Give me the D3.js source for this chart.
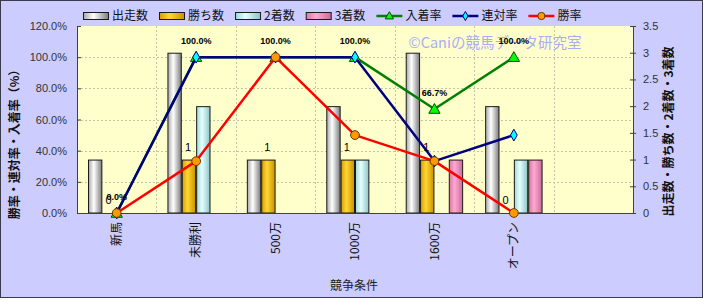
<!DOCTYPE html>
<html><head><meta charset="utf-8">
<script src="https://cdn.jsdelivr.net/npm/d3@7"></script>
<style>
body{margin:0;background:#fff;}
svg{display:block;}
text{font-family:"Liberation Sans",Arial,sans-serif;}
.jp{font-family:"Noto Sans CJK JP","Noto Sans",sans-serif;}
</style></head><body>
<svg id="chart" width="703" height="301"></svg>
<script>
// chart data
const CATEGORIES  = ['新馬', '未勝利', '500万', '1000万', '1600万', 'オープン', ''];
const BAR_SERIES  = ['出走数', '勝ち数', '2着数', '3着数'];
const STARTS      = [1, 3, 1, 2, 3, 2];
const WINS        = [0, 1, 1, 1, 1, 0];
const SECONDS     = [0, 2, 0, 1, 0, 1];
const THIRDS      = [0, 0, 0, 0, 1, 1];
const LINE_SERIES = ['入着率', '連対率', '勝率'];
const SHOW_RATE   = [0, 1, 1, 1, 0.667, 1];
const PLACE_RATE  = [0, 1, 1, 1, 0.333, 0.5];
const WIN_RATE    = [0, 0.333, 1, 0.5, 0.333, 0];
const LEFT_TICKS  = [0, 0.2, 0.4, 0.6, 0.8, 1.0, 1.2];
const RIGHT_TICKS = [0, 0.5, 1, 1.5, 2, 2.5, 3, 3.5];

const W = 703, H = 301;
const plot = {l: 77, r: 633, t: 26, b: 213};

const svg = d3.select('#chart');

// backgrounds
svg.append('rect').attr('x', 0.5).attr('y', 0.5).attr('width', W - 1).attr('height', H - 4)
  .attr('fill', '#ccccff').attr('stroke', '#3a3a4a').attr('stroke-width', 1);
svg.append('rect').attr('x', plot.l).attr('y', plot.t)
  .attr('width', plot.r - plot.l).attr('height', plot.b - plot.t).attr('fill', '#ffffcc');

// gradients for cylinder-looking bars
const barColors = {
  '出走数': ['#a8a8a8', '#ffffff', '#7c7c7c'],
  '勝ち数': ['#d9a000', '#ffd633', '#c89200'],
  '2着数': ['#9fd8d8', '#e6ffff', '#8cc4c4'],
  '3着数': ['#d8789f', '#ffa8d4', '#c86c96'],
};
const defs = svg.append('defs');
BAR_SERIES.forEach((s, i) => {
  const g = defs.append('linearGradient').attr('id', 'grad' + i)
    .attr('x1', '0%').attr('x2', '100%').attr('y1', '0%').attr('y2', '0%');
  g.append('stop').attr('offset', '0%').attr('stop-color', barColors[s][0]);
  g.append('stop').attr('offset', '40%').attr('stop-color', barColors[s][1]);
  g.append('stop').attr('offset', '100%').attr('stop-color', barColors[s][2]);
});

// scales
const x = d3.scaleBand().domain(CATEGORIES).range([plot.l, plot.r]).padding(0);
const bw = x.bandwidth();
const xs = d3.scaleBand().domain(BAR_SERIES).range([11, bw - 11]).padding(0);
const yL = d3.scaleLinear().domain([0, 1.2]).range([plot.b, plot.t]);
const yR = d3.scaleLinear().domain([0, 3.5]).range([plot.b, plot.t]);
const cx = c => x(c) + bw / 2;

// grid
const grid = svg.append('g').attr('stroke', '#c4c4ac').attr('stroke-width', 1)
  .attr('stroke-dasharray', '2,2');
LEFT_TICKS.filter(t => t > 0 && t < 1.2).forEach(t => {
  grid.append('line').attr('x1', plot.l).attr('x2', plot.r)
    .attr('y1', Math.round(yL(t)) + 0.5).attr('y2', Math.round(yL(t)) + 0.5);
});
CATEGORIES.slice(1).forEach(c => {
  grid.append('line').attr('x1', Math.round(x(c)) + 0.5).attr('x2', Math.round(x(c)) + 0.5)
    .attr('y1', plot.t).attr('y2', plot.b);
});

// watermark
svg.append('text').attr('class', 'jp').attr('x', 495).attr('y', 48)
  .attr('text-anchor', 'middle').attr('font-size', 14.5).attr('fill', '#a9aef2')
  .text('©Caniの競馬データ研究室');

// bars
const barData = [STARTS, WINS, SECONDS, THIRDS];
const bars = svg.append('g');
BAR_SERIES.forEach((s, si) => {
  const rows = barData[si].map((v, i) => ({cat: CATEGORIES[i], v})).filter(d => d.v > 0);
  bars.selectAll(null).data(rows).join('rect')
    .attr('x', d => x(d.cat) + xs(s) + 0.5)
    .attr('y', d => yR(d.v) + 0.5)
    .attr('width', xs.bandwidth() - 1)
    .attr('height', d => yR(0) - yR(d.v) - 0.5)
    .attr('fill', `url(#grad${si})`)
    .attr('stroke', '#1a1a1a').attr('stroke-width', 1);
});

// axes
const axL = svg.append('g').attr('transform', `translate(${plot.l},0)`)
  .call(d3.axisLeft(yL).tickValues(LEFT_TICKS).tickFormat(d3.format('.1%')).tickSizeInner(-4).tickSizeOuter(0).tickPadding(10));
const axR = svg.append('g').attr('transform', `translate(${plot.r},0)`)
  .call(d3.axisRight(yR).tickValues(RIGHT_TICKS).tickFormat(d => d).tickSizeInner(3).tickSizeOuter(0).tickPadding(7));
[axL, axR].forEach(a => {
  a.select('.domain').attr('stroke', '#404040');
  a.selectAll('.tick line').attr('stroke', '#404040');
  a.selectAll('.tick text').attr('font-size', 11).attr('fill', '#333')
    .attr('font-family', '"Liberation Sans",Arial,sans-serif');
});
axR.selectAll('.tick line').attr('x1', -3);
svg.append('line').attr('x1', plot.l).attr('x2', plot.r).attr('y1', plot.b + 0.5).attr('y2', plot.b + 0.5)
  .attr('stroke', '#404040');

// category labels, vertical
const axB = svg.append('g').attr('transform', `translate(0,${plot.b})`)
  .call(d3.axisBottom(x).tickSize(0).tickPadding(0));
axB.select('.domain').remove();
axB.selectAll('.tick text')
  .attr('class', 'jp').attr('font-size', 12).attr('fill', '#111')
  .attr('font-family', '"Noto Sans CJK JP",sans-serif')
  .attr('transform', 'rotate(-90)')
  .attr('text-anchor', 'end').attr('x', -9).attr('y', 0).attr('dy', '0.35em');

// lines
const lineDefs = [
  {name: '入着率', vals: SHOW_RATE, color: '#008000', marker: 'triangle', fill: '#00ff00', mstroke: '#005000'},
  {name: '連対率', vals: PLACE_RATE, color: '#000080', marker: 'diamond', fill: '#00ffff', mstroke: '#000080'},
  {name: '勝率', vals: WIN_RATE, color: '#ff0000', marker: 'circle', fill: '#ff9900', mstroke: '#663300'},
];
const symbols = {
  triangle: d3.symbol().type(d3.symbolTriangle).size(55),
  diamond: d3.symbol().type(d3.symbolDiamond).size(40),
  circle: d3.symbol().type(d3.symbolCircle).size(60),
};
const line = d3.line().x((v, i) => cx(CATEGORIES[i])).y(v => yL(v));
lineDefs.forEach(ld => {
  const g = svg.append('g');
  g.append('path').datum(ld.vals).attr('d', line).attr('fill', 'none')
    .attr('stroke', ld.color).attr('stroke-width', 2.5).attr('stroke-linejoin', 'round');
  g.selectAll('path.m').data(ld.vals).join('path').attr('class', 'm')
    .attr('transform', (v, i) => `translate(${cx(CATEGORIES[i])},${yL(v) + (ld.marker === 'triangle' ? 1 : 0)})`)
    .attr('d', symbols[ld.marker])
    .attr('fill', ld.fill).attr('stroke', ld.mstroke).attr('stroke-width', 1);
});

// data labels
svg.append('g').selectAll('text').data(SHOW_RATE).join('text')
  .attr('x', (v, i) => cx(CATEGORIES[i]))
  .attr('y', v => yL(v) - 13)
  .attr('text-anchor', 'middle').attr('font-size', 9).attr('font-weight', 'bold').attr('fill', '#000')
  .text(v => d3.format('.1%')(v));
svg.append('g').selectAll('text').data(WINS).join('text')
  .attr('x', (v, i) => x(CATEGORIES[i]) + xs('勝ち数') + xs.bandwidth() / 2 - 1)
  .attr('y', v => yR(v) - 9)
  .attr('text-anchor', 'middle').attr('font-size', 11).attr('fill', '#000')
  .text(v => v);

// legend
const legend = svg.append('g').attr('transform', 'translate(83,16)');
let lx = 0;
const legItems = BAR_SERIES.map((s, i) => ({name: s, type: 'bar', idx: i}))
  .concat(lineDefs.map(ld => ({name: ld.name, type: 'line', ld})));
legItems.forEach(it => {
  const g = legend.append('g').attr('transform', `translate(${lx},0)`);
  if (it.type === 'bar') {
    g.append('rect').attr('x', 0.5).attr('y', -3.5).attr('width', 25).attr('height', 7)
      .attr('fill', `url(#grad${it.idx})`).attr('stroke', '#1a1a1a');
  } else {
    g.append('line').attr('x1', 0).attr('x2', 26).attr('y1', 0).attr('y2', 0)
      .attr('stroke', it.ld.color).attr('stroke-width', 2.5);
    g.append('path').attr('transform', `translate(13,${it.ld.marker === 'triangle' ? 0.5 : 0})`)
      .attr('d', it.ld.marker === 'triangle' ? d3.symbol().type(d3.symbolTriangle).size(30)
        : it.ld.marker === 'diamond' ? d3.symbol().type(d3.symbolDiamond).size(24)
        : d3.symbol().type(d3.symbolCircle).size(40))
      .attr('fill', it.ld.fill).attr('stroke', it.ld.mstroke);
  }
  const t = g.append('text').attr('class', 'jp').attr('x', 29).attr('y', 0).attr('dy', '0.36em')
    .attr('font-size', 12).attr('fill', '#111')
    .attr('font-family', '"Noto Sans CJK JP",sans-serif').text(it.name);
  lx += 29 + t.node().getComputedTextLength() + 11;
});

// axis titles
svg.append('text').attr('class', 'jp')
  .attr('transform', `translate(19,${(plot.t + plot.b) / 2 + 22}) rotate(-90)`)
  .attr('text-anchor', 'middle').attr('font-size', 12).attr('font-weight', 'bold').attr('fill', '#111')
  .text('勝率・連対率・入着率（%）');
svg.append('text').attr('class', 'jp')
  .attr('transform', `translate(673,${(plot.t + plot.b) / 2 + 12}) rotate(-90)`)
  .attr('text-anchor', 'middle').attr('font-size', 12).attr('font-weight', 'bold').attr('fill', '#111')
  .text('出走数・勝ち数・2着数・3着数');
svg.append('text').attr('class', 'jp')
  .attr('x', (plot.l + plot.r) / 2 - 1).attr('y', 290)
  .attr('text-anchor', 'middle').attr('font-size', 12).attr('fill', '#222')
  .text('競争条件');
</script>
</body></html>
